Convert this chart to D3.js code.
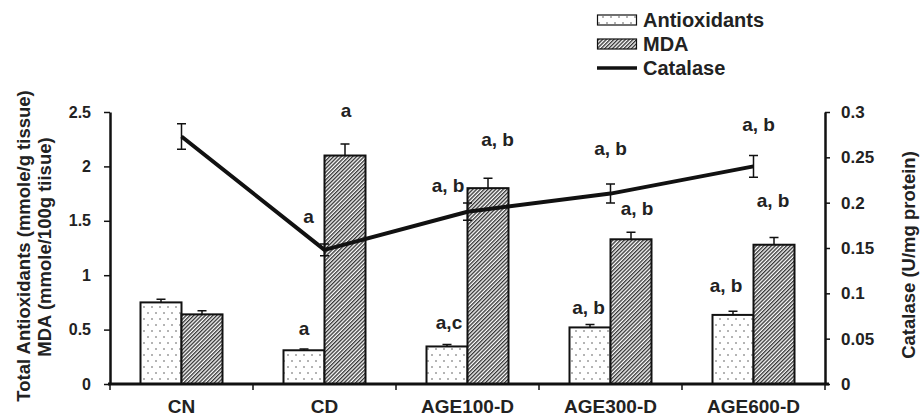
<!DOCTYPE html>
<html>
<head>
<meta charset="utf-8">
<script src="https://cdn.jsdelivr.net/npm/d3@7"></script>
<style>
  html, body { margin: 0; padding: 0; background: #fff; }
  svg { display: block; font-family: "Liberation Sans", Arial, Helvetica, sans-serif; font-weight: bold; }
</style>
</head>
<body>
<svg id="chart" width="921" height="418"></svg>
<script>
// values
const categories = ['CN', 'CD', 'AGE100-D', 'AGE300-D', 'AGE600-D'];
const antioxidants = [0.75, 0.31, 0.345, 0.52, 0.635];
const antioxidantsErr = [0.03, 0.012, 0.018, 0.028, 0.034];
const mda = [0.64, 2.10, 1.80, 1.33, 1.28];
const mdaErr = [0.033, 0.107, 0.09, 0.064, 0.067];
const catalase = [0.273, 0.148, 0.19, 0.21, 0.24];
const catalaseErr = [0.014, 0.0065, 0.0095, 0.0105, 0.012];

const leftTicks = [0, 0.5, 1, 1.5, 2, 2.5];
const rightTicks = [0, 0.05, 0.1, 0.15, 0.2, 0.25, 0.3];

// significance letters
const antioxidantLabels = ['', 'a', 'a,c', 'a, b', 'a, b'];
const mdaLabels = ['', 'a', 'a, b', 'a, b', 'a, b'];
const catalaseLabels = ['', 'a', 'a, b', 'a, b', 'a, b'];

// small nudges (px) for the letters, relative to the top of each error bar / point
const antioxidantNudge = [[0, 0], [0, -21], [2, -22], [-1.5, -17], [-7, -26]];
const mdaNudge = [[0, 0], [1, -34], [9.5, -39], [6, -24], [-1, -37]];
const catalaseNudge = [[0, 0], [-16, -33], [-19.5, -26], [0, -45], [5, -42]];

const svg = d3.select('#chart');

const margin = { top: 112, right: 96, bottom: 34, left: 110 };
const width = 921 - margin.left - margin.right;
const height = 418 - margin.top - margin.bottom;

const defs = svg.append('defs');

// dotted fill for antioxidants
const dots = defs.append('pattern')
  .attr('id', 'dots')
  .attr('patternUnits', 'userSpaceOnUse')
  .attr('width', 8)
  .attr('height', 12);
dots.append('rect').attr('width', 8).attr('height', 12).attr('fill', '#fff');
dots.append('circle').attr('cx', 2).attr('cy', 3).attr('r', 0.8).attr('fill', '#555');
dots.append('circle').attr('cx', 6).attr('cy', 9).attr('r', 0.8).attr('fill', '#555');

// diagonal hatch for MDA
const hatch = defs.append('pattern')
  .attr('id', 'hatch')
  .attr('patternUnits', 'userSpaceOnUse')
  .attr('width', 2.7)
  .attr('height', 10)
  .attr('patternTransform', 'rotate(45)');
hatch.append('rect').attr('width', 2.7).attr('height', 10).attr('fill', '#fff');
hatch.append('line')
  .attr('x1', 0.7).attr('x2', 0.7)
  .attr('y1', 0).attr('y2', 10)
  .attr('stroke', '#222')
  .attr('stroke-width', 1.25);

const g = svg.append('g').attr('transform', `translate(${margin.left}, ${margin.top})`);

const x = d3.scaleBand()
  .domain(categories)
  .range([0, width])
  .padding(0);

const groupWidth = 82;
const x1 = d3.scaleBand()
  .domain(['Antioxidants', 'MDA'])
  .range([(x.bandwidth() - groupWidth) / 2, (x.bandwidth() + groupWidth) / 2]);

const yL = d3.scaleLinear().domain([0, 2.5]).range([height, 0]);
const yR = d3.scaleLinear().domain([0, 0.3]).range([height, 0]);

// bars
const series = [
  { key: 'Antioxidants', values: antioxidants, err: antioxidantsErr, fill: 'url(#dots)', labels: antioxidantLabels, nudge: antioxidantNudge },
  { key: 'MDA', values: mda, err: mdaErr, fill: 'url(#hatch)', labels: mdaLabels, nudge: mdaNudge }
];

series.forEach(s => {
  const rows = categories.map((c, i) => ({ cat: c, v: s.values[i], e: s.err[i], label: s.labels[i], nudge: s.nudge[i] }));
  const cx = d => x(d.cat) + x1(s.key) + x1.bandwidth() / 2;

  g.selectAll(null)
    .data(rows)
    .enter()
    .append('rect')
    .attr('x', d => x(d.cat) + x1(s.key))
    .attr('y', d => yL(d.v))
    .attr('width', x1.bandwidth())
    .attr('height', d => height - yL(d.v))
    .attr('fill', s.fill)
    .attr('stroke', '#111')
    .attr('stroke-width', 2);

  // upper error bars only
  g.selectAll(null)
    .data(rows)
    .enter()
    .append('path')
    .attr('d', d => `M${cx(d)},${yL(d.v)}V${yL(d.v + d.e)}M${cx(d) - 4.5},${yL(d.v + d.e)}h9`)
    .attr('fill', 'none')
    .attr('stroke', '#111')
    .attr('stroke-width', 1.5);

  g.selectAll(null)
    .data(rows.filter(d => d.label))
    .enter()
    .append('text')
    .attr('x', d => cx(d) + d.nudge[0])
    .attr('y', d => yL(d.v + d.e) + d.nudge[1])
    .attr('dy', '0.35em')
    .attr('text-anchor', 'middle')
    .style('font-size', '19px')
    .attr('fill', '#222')
    .text(d => d.label);
});

// catalase line on right axis
const catRows = categories.map((c, i) => ({ cat: c, v: catalase[i], e: catalaseErr[i], label: catalaseLabels[i], nudge: catalaseNudge[i] }));
const px = d => x(d.cat) + x.bandwidth() / 2;

g.selectAll(null)
  .data(catRows)
  .enter()
  .append('path')
  .attr('d', d => `M${px(d)},${yR(d.v - d.e)}V${yR(d.v + d.e)}M${px(d) - 4.5},${yR(d.v + d.e)}h9M${px(d) - 4.5},${yR(d.v - d.e)}h9`)
  .attr('fill', 'none')
  .attr('stroke', '#111')
  .attr('stroke-width', 1.5);

g.append('path')
  .datum(catRows)
  .attr('d', d3.line().x(px).y(d => yR(d.v)))
  .attr('fill', 'none')
  .attr('stroke', '#111')
  .attr('stroke-width', 4)
  .attr('stroke-linejoin', 'round');

g.selectAll(null)
  .data(catRows.filter(d => d.label))
  .enter()
  .append('text')
  .attr('x', d => px(d) + d.nudge[0])
  .attr('y', d => yR(d.v) + d.nudge[1])
  .attr('dy', '0.35em')
  .attr('text-anchor', 'middle')
  .style('font-size', '19px')
  .attr('fill', '#222')
  .text(d => d.label);

// left axis
const leftAxis = g.append('g')
  .call(d3.axisLeft(yL).tickValues(leftTicks).tickFormat(d => String(d)).tickSize(6).tickSizeOuter(0).tickPadding(13));
leftAxis.select('.domain').attr('stroke', '#111').attr('stroke-width', 2.5);
leftAxis.selectAll('.tick line').attr('stroke', '#111').attr('stroke-width', 1.5);
leftAxis.selectAll('text').style('font-size', '16px').style('font-weight', 'bold').attr('fill', '#222')
  .style('font-family', '"Liberation Sans", Arial, sans-serif');

// right axis
const rightAxis = g.append('g')
  .attr('transform', `translate(${width}, 0)`)
  .call(d3.axisRight(yR).tickValues(rightTicks).tickFormat(d => String(d)).tickSize(5).tickSizeOuter(0).tickPadding(11));
rightAxis.select('.domain').attr('stroke', '#111').attr('stroke-width', 2.5);
rightAxis.selectAll('.tick line').attr('stroke', '#111').attr('stroke-width', 1.5);
rightAxis.selectAll('text').style('font-size', '17px').style('font-weight', 'bold').attr('fill', '#222')
  .style('font-family', '"Liberation Sans", Arial, sans-serif');

// bottom axis: labels centred, ticks on category boundaries
const bottomAxis = g.append('g')
  .attr('transform', `translate(0, ${height})`)
  .call(d3.axisBottom(x).tickSize(0).tickPadding(16));
bottomAxis.select('.domain').remove();
bottomAxis.selectAll('text').style('font-size', '19px').style('font-weight', 'bold').attr('fill', '#222')
  .style('font-family', '"Liberation Sans", Arial, sans-serif');

const boundaries = categories.map(c => x(c)).concat([x.range()[1]]);
bottomAxis.selectAll('.bound')
  .data(boundaries)
  .enter()
  .append('line')
  .attr('x1', d => d).attr('x2', d => d)
  .attr('y1', 0).attr('y2', 6)
  .attr('stroke', '#111')
  .attr('stroke-width', 1.5);

bottomAxis.append('line')
  .attr('x1', -2).attr('x2', width + 4)
  .attr('y1', 0).attr('y2', 0)
  .attr('stroke', '#111')
  .attr('stroke-width', 3);

// axis titles
const leftTitle = svg.append('g').attr('font-size', '18.5px').attr('fill', '#222');
leftTitle.append('text')
  .attr('transform', `translate(24, ${margin.top + height / 2 - 2}) rotate(-90)`)
  .attr('text-anchor', 'middle')
  .attr('dy', '0.35em')
  .text('Total Antioxidants (mmole/g tissue)');
leftTitle.append('text')
  .attr('transform', `translate(45, ${margin.top + height / 2 - 1}) rotate(-90)`)
  .attr('text-anchor', 'middle')
  .attr('dy', '0.35em')
  .text('MDA (mmole/100g tiisue)');

svg.append('text')
  .attr('transform', `translate(909, ${margin.top + height / 2 + 7}) rotate(-90)`)
  .attr('text-anchor', 'middle')
  .attr('dy', '0.35em')
  .attr('font-size', '18.5px')
  .attr('fill', '#222')
  .text('Catalase (U/mg protein)');

// legend
const legend = svg.append('g').attr('transform', 'translate(597, 20)');
const legendItems = [
  { label: 'Antioxidants', type: 'dots' },
  { label: 'MDA', type: 'hatch' },
  { label: 'Catalase', type: 'line' }
];
legendItems.forEach((item, i) => {
  const row = legend.append('g').attr('transform', `translate(0, ${i * 24})`);
  if (item.type === 'line') {
    row.append('line')
      .attr('x1', 0).attr('x2', 40)
      .attr('y1', 0).attr('y2', 0)
      .attr('stroke', '#111')
      .attr('stroke-width', 3.5);
  } else {
    row.append('rect')
      .attr('x', 0.5).attr('y', -5)
      .attr('width', 39).attr('height', 10)
      .attr('fill', `url(#${item.type})`)
      .attr('stroke', '#111')
      .attr('stroke-width', 1.2);
  }
  row.append('text')
    .attr('x', 46)
    .attr('y', 0)
    .attr('dy', '0.35em')
    .attr('font-size', '20px')
    .attr('fill', '#222')
    .text(item.label);
});
</script>
</body>
</html>
